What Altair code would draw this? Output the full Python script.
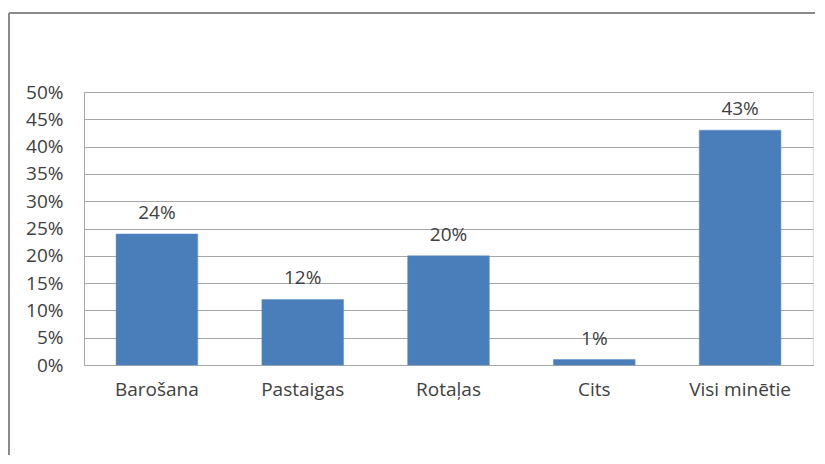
import altair as alt
import pandas as pd

categories = ["Barošana", "Pastaigas", "Rotaļas", "Cits", "Visi minētie"]
values = [0.24, 0.12, 0.20, 0.01, 0.43]
value_labels = ["24%", "12%", "20%", "1%", "43%"]
y_ticks = [0.0, 0.05, 0.10, 0.15, 0.20, 0.25, 0.30, 0.35, 0.40, 0.45, 0.50]

df = pd.DataFrame({"cat": categories, "val": values, "lab": value_labels})

W, H = 729, 273
PAD = {"left": 76, "top": 84, "right": 2, "bottom": 90}
FONT = "Open Sans"
FS = 19
TXT = "#404040"
GRID = "#a6a6a6"
BAR = "#4a7ebb"
FRAME = "#8a8a8a"

x = alt.X("cat:N", sort=categories, title=None,
          scale=alt.Scale(paddingInner=0.44, paddingOuter=0.22),
          axis=alt.Axis(labelAngle=0, labelFont=FONT, labelFontSize=FS, labelColor=TXT,
                        labelPadding=15, ticks=False, domainColor=GRID, domainWidth=1))
y = alt.Y("val:Q", title=None,
          scale=alt.Scale(domain=[0, 0.5], nice=False),
          axis=alt.Axis(format=".0%", values=y_ticks,
                        labelFont=FONT, labelFontSize=FS, labelColor=TXT, labelPadding=21,
                        labelOverlap=False, ticks=False, grid=True, gridColor=GRID, gridWidth=1,
                        domainColor=GRID, domainWidth=1))

base = alt.Chart(df).encode(x=x, y=y)
bars = base.mark_bar(color=BAR, stroke="#5b8cc9", strokeWidth=0.5)
labels = base.mark_text(font=FONT, fontSize=FS, color=TXT, baseline="alphabetic", dy=-15).encode(
    text="lab:N")

frame_src = alt.Chart(pd.DataFrame({"k": [0]}))
top_line = frame_src.mark_rule(color=FRAME, strokeWidth=2).encode(
    x=alt.value(-75), x2=alt.value(W + 10), y=alt.value(-79))
left_line = frame_src.mark_rule(color=FRAME, strokeWidth=2).encode(
    x=alt.value(-75), y=alt.value(-79), y2=alt.value(H + 100))

chart = alt.layer(bars, labels, top_line, left_line).properties(
    width=W, height=H, padding=PAD,
    autosize=alt.AutoSizeParams(type="none"),
).configure_view(stroke=None).configure(background="white")

chart.save("out.html", embed_options={"renderer": "svg", "actions": False})
